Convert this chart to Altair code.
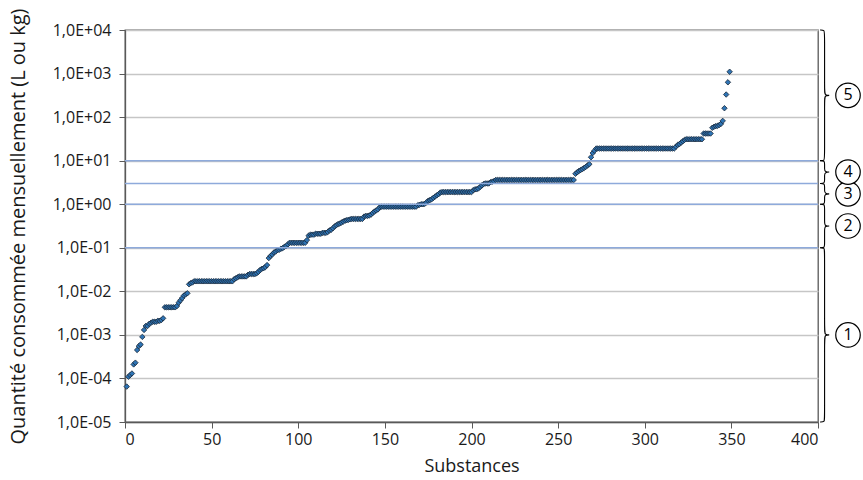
import altair as alt
import numpy as np
import pandas as pd

# ---- data (run-length encoded: value, number of substances) ----
run_values = [
    6.5e-5, 1.1e-4, 1.2e-4, 1.3e-4, 2.1e-4, 2.3e-4, 4.5e-4, 5.5e-4, 6.0e-4, 9.0e-4,
    1.3e-3, 1.6e-3, 1.8e-3, 1.9e-3, 2.0e-3, 2.1e-3, 2.2e-3, 2.4e-3,
    4.3e-3,
    4.6e-3, 5.5e-3, 6.2e-3, 7.0e-3, 8.0e-3, 8.5e-3, 9.0e-3,
    1.45e-2, 1.55e-2, 1.6e-2,
    1.7e-2,
    1.9e-2, 2.0e-2, 2.1e-2, 2.2e-2, 2.4e-2, 2.5e-2, 2.6e-2, 2.8e-2, 3.1e-2, 3.3e-2, 3.4e-2, 3.6e-2, 4.0e-2,
    5.8e-2, 6.5e-2, 7.0e-2, 7.8e-2, 8.2e-2, 8.8e-2, 9.0e-2, 9.5e-2, 9.8e-2, 0.105, 0.11, 0.12,
    0.13,
    0.15, 0.19,
    0.20, 0.21, 0.22,
    0.23, 0.25, 0.26, 0.28, 0.31, 0.33, 0.35, 0.36, 0.38, 0.40, 0.42, 0.43, 0.44, 0.45,
    0.46,
    0.52, 0.54, 0.55, 0.58, 0.63, 0.68, 0.72, 0.76, 0.85,
    0.88,
    0.95, 0.97, 1.0, 1.02, 1.1, 1.2, 1.25, 1.3, 1.4, 1.5, 1.6, 1.7, 1.85,
    1.9,
    2.1, 2.2, 2.3, 2.5, 2.7, 2.9, 3.0, 3.2, 3.3, 3.4,
    3.6,
    5.0, 5.4, 5.8, 6.1, 6.4, 6.8, 7.2, 7.8, 8.3,
    12, 15, 17,
    19,
    21, 23, 24, 26, 28, 30,
    31,
    42,
    57, 60, 62, 63, 66, 70, 82,
    160, 330, 630, 1100,
]
run_counts = [
    1, 1, 1, 1, 1, 1, 1, 1, 1, 1,
    1, 2, 1, 1, 3, 2, 1, 1,
    7,
    1, 1, 1, 1, 1, 1, 1,
    1, 1, 1,
    23,
    1, 1, 1, 5, 1, 4, 1, 1, 1, 1, 1, 1, 1,
    1, 1, 1, 1, 1, 1, 1, 1, 1, 1, 1, 1,
    10,
    1, 1,
    3, 4, 3,
    1, 1, 1, 1, 1, 1, 1, 1, 1, 1, 1, 1, 1, 1,
    7,
    1, 2, 1, 1, 1, 1, 1, 1, 1,
    21,
    1, 1, 2, 1, 1, 1, 1, 1, 1, 1, 1, 1, 1,
    18,
    1, 2, 1, 1, 1, 1, 3, 1, 1, 1,
    46,
    1, 1, 1, 1, 1, 1, 1, 1, 1,
    1, 1, 1,
    46,
    1, 1, 1, 1, 1, 1,
    10,
    5,
    1, 1, 1, 1, 1, 1, 1,
    1, 1, 1, 1,
]

decades = [1e-5, 1e-4, 1e-3, 1e-2, 1e-1, 1e0, 1e1, 1e2, 1e3, 1e4]
x_ticks = [0, 50, 100, 150, 200, 250, 300, 350, 400]
thresholds = [0.1, 1, 3, 10]
class_bounds = [1e-5, 0.1, 1, 3, 10, 1e4]
class_labels = ["1", "2", "3", "4", "5"]

# ---- tables ----
vals = np.repeat(run_values, run_counts)
df = pd.DataFrame({"substance": np.arange(1, len(vals) + 1), "q": vals})
df_thr = pd.DataFrame({"t": thresholds})

# brace paths (x offsets beyond the axis end, in x data units)
bx_left, bx_vert, bx_tip = 401.2, 403.8, 407.8
r = 0.08  # decades
rows = []
lab_rows = []
for k, lab in enumerate(class_labels):
    lo, hi = np.log10(class_bounds[k]), np.log10(class_bounds[k + 1])
    mid = (lo + hi) / 2
    rr = min(r, (hi - lo) / 5)
    pts = [
        (bx_left, hi), (bx_vert, hi), (bx_vert, hi - rr), (bx_vert, mid + rr),
        (bx_vert, mid), (bx_tip, mid), (bx_vert, mid), (bx_vert, mid - rr),
        (bx_vert, lo + rr), (bx_vert, lo), (bx_left, lo),
    ]
    for i, (px, py) in enumerate(pts):
        rows.append({"cls": lab, "seq": i, "bx": px, "by": 10 ** py})
    lab_rows.append({"cls": lab, "ly": 10 ** mid})
df_brace = pd.DataFrame(rows)
df_lab = pd.DataFrame(lab_rows)

# ---- scales ----
xs = alt.Scale(domain=[0, 400], nice=False, zero=False)
ys = alt.Scale(type="log", domain=[1e-5, 1e4], nice=False)

FONT = "Open Sans"
label_expr = (
    "'1,0E' + (datum.value >= 1 ? '+' : '-') + "
    "(abs(round(log(datum.value)/LN10)) < 10 ? '0' : '') + abs(round(log(datum.value)/LN10))"
)
YTITLE = "Quantité consommée mensuellement (L ou kg)"
XTITLE = "Substances"
AXC = "#595959"

points = alt.Chart(df).mark_point(
    shape="diamond", filled=True, size=30, fill="#2e74b5", stroke="#1b2838",
    strokeWidth=0.8, opacity=1,
).encode(
    x=alt.X("substance:Q", scale=xs, title=XTITLE, axis=alt.Axis(
        values=x_ticks, grid=False, labelPadding=3,
        titleY=44, titleBaseline="middle",
    )),
    y=alt.Y("q:Q", scale=ys, title=YTITLE, axis=alt.Axis(
        values=decades, labelExpr=label_expr,
        grid=True, labelPadding=8,
        titleX=-107, titleY=196, titleAngle=-90, titleBaseline="middle", titleAlign="center",
    )),
)

thr = alt.Chart(df_thr).mark_rule(color="#8eaadb", strokeWidth=1.5).encode(
    y=alt.Y("t:Q", scale=ys, title=YTITLE)
)

braces = alt.Chart(df_brace).mark_line(
    interpolate="basis", color="black", strokeWidth=1.1, clip=False
).encode(
    x=alt.X("bx:Q", scale=xs, title=XTITLE),
    y=alt.Y("by:Q", scale=ys, title=YTITLE),
    detail="cls:N",
    order="seq:Q",
)

circles = alt.Chart(df_lab).mark_point(
    shape="circle", size=600, filled=False, stroke="black", strokeWidth=1.2,
    fill="white", fillOpacity=1, opacity=1,
).encode(
    x=alt.value(723),
    y=alt.Y("ly:Q", scale=ys, title=YTITLE),
)

texts = alt.Chart(df_lab).mark_text(
    fontSize=16, font=FONT, color="black", align="center", baseline="middle", dy=0
).encode(
    x=alt.value(723),
    y=alt.Y("ly:Q", scale=ys, title=YTITLE),
    text="cls:N",
)

chart = alt.layer(points, thr, braces, circles, texts).properties(
    width=693, height=392,
    autosize=alt.AutoSizeParams(type="none"),
    padding={"left": 125, "top": 30, "right": 45, "bottom": 58},
    background="white",
).configure_view(
    stroke=AXC, strokeWidth=1.3
).configure_axis(
    labelFontSize=16, labelFont=FONT, labelColor="#1a1a1a",
    titleFont=FONT, titleFontWeight="normal", titleColor="#1a1a1a",
    domainColor=AXC, tickColor=AXC, domainWidth=1.3, tickSize=6,
    gridColor="#c6c6c6", gridWidth=1.5,
).configure_axisX(
    titleFontSize=18,
).configure_axisY(
    titleFontSize=20,
)

chart.save("out.html", embed_options={"renderer": "svg", "actions": False})
